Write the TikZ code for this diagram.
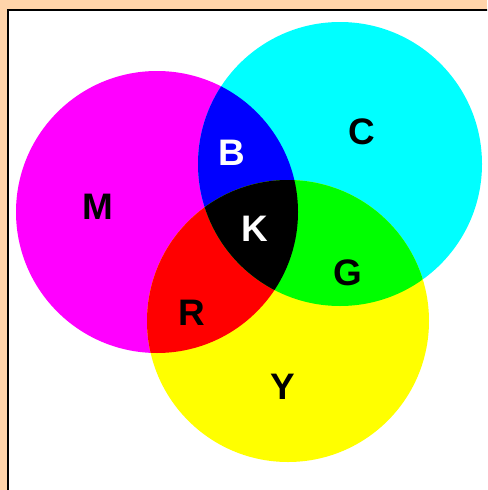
\documentclass[tikz,border=0pt]{standalone}
\usepackage{fontspec}
\setmainfont{Liberation Sans}
\definecolor{peach}{RGB}{255,212,170}
\definecolor{pM}{RGB}{255,0,255}
\definecolor{pC}{RGB}{0,255,255}
\definecolor{pY}{RGB}{255,255,0}
\definecolor{pR}{RGB}{255,0,0}
\definecolor{pG}{RGB}{0,255,0}
\definecolor{pB}{RGB}{0,0,255}
\begin{document}
\begin{tikzpicture}[x=0.02cm, y=-0.02cm]
    \tikzset{
      lbl/.style={font=\bfseries\fontsize{21}{21}\selectfont, inner sep=0pt},
      lblw/.style={lbl, text=white},
    }
    \useasboundingbox (0,0) rectangle (487,490);
    \clip (0,0) rectangle (487,490);
    \fill[peach] (0,0) rectangle (487,490);
    \draw[fill=white, line width=0.04cm] (8,10) rectangle (520,520);

    % the three pigment discs
    \def\discM{(157,212) circle[radius=141]}
    \def\discC{(340,164) circle[radius=142]}
    \def\discY{(288,321) circle[radius=141]}
    \fill[pM] \discM;
    \fill[pC] \discC;
    \fill[pY] \discY;

    % the overlaps
    \begin{scope}
      \clip \discM;
      \fill[pB] \discC;
      \fill[pR] \discY;
    \end{scope}
    \begin{scope}
      \clip \discC;
      \fill[pG] \discY;
      \clip \discM;
      \fill[black] \discY;
    \end{scope}

    \node[lbl] (M) at (98,207) {M};
    \node[lblw] (B) at (232,153) {B};
    \node[lbl] (C) at (362,132) {C};
    \node[lblw] (K) at (255,229) {K};
    \node[lbl] (G) at (348,273) {G};
    \node[lbl] (R) at (192,313) {R};
    \node[lbl] (Y) at (283,387) {Y};
  \end{tikzpicture}
\end{document}
